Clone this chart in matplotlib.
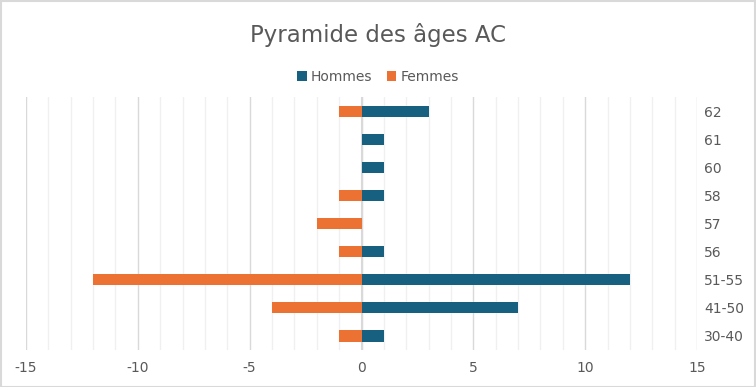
import matplotlib.pyplot as plt
import matplotlib.ticker as ticker
import numpy as np

# age groups, bottom to top
ages = ['30-40', '41-50', '51-55', '56', '57', '58', '60', '61', '62']
hommes = [1, 7, 12, 1, 0, 1, 1, 1, 3]
femmes = [-1, -4, -12, -1, -2, -1, 0, 0, -1]

blue = '#17607f'
orange = '#eb7233'
txt = '#595959'

fig = plt.figure(figsize=(7.56, 3.87), dpi=100)
ax = fig.add_axes([0.0344, 0.0956, 0.8876, 0.6534])

y = np.arange(len(ages))
ax.barh(y, hommes, height=0.4, color=blue, label='Hommes', zorder=3)
ax.barh(y, femmes, height=0.4, color=orange, label='Femmes', zorder=3)

ax.set_xlim(-15, 15)
ax.set_ylim(-0.5, len(ages) - 0.5)
ax.xaxis.set_major_locator(ticker.MultipleLocator(5))
ax.xaxis.set_minor_locator(ticker.MultipleLocator(1))
ax.grid(which='minor', axis='x', color='#f0f0f0', lw=1, zorder=0)
ax.grid(which='major', axis='x', color='#d9d9d9', lw=1, zorder=1)
ax.axvline(0, color='#d9d9d9', lw=1.5, zorder=2)

ax.set_yticks(y)
ax.set_yticklabels(ages)
ax.yaxis.tick_right()
ax.tick_params(axis='y', length=0, pad=5, labelsize=10, labelcolor=txt)
ax.tick_params(axis='x', which='both', length=0, pad=8, labelsize=10, labelcolor=txt)
ax.xaxis.set_major_formatter(ticker.FuncFormatter(lambda v, p: '%d' % v))
for s in ax.spines.values():
    s.set_visible(False)

fig.suptitle('Pyramide des âges AC', y=0.94, fontsize=16.5, color=txt)
fig.legend(loc='center', bbox_to_anchor=(0.5, 0.802), ncol=2, frameon=False,
           fontsize=10, labelcolor=txt, handlelength=0.7, handleheight=0.7,
           handletextpad=0.3, columnspacing=1.0)

# light border around the chart
fig.patches.append(plt.Rectangle((0.001, 0.001), 0.998, 0.997, transform=fig.transFigure,
                                 fill=False, edgecolor='#d9d9d9', lw=1.5))

fig.savefig('out.png', dpi=100)
